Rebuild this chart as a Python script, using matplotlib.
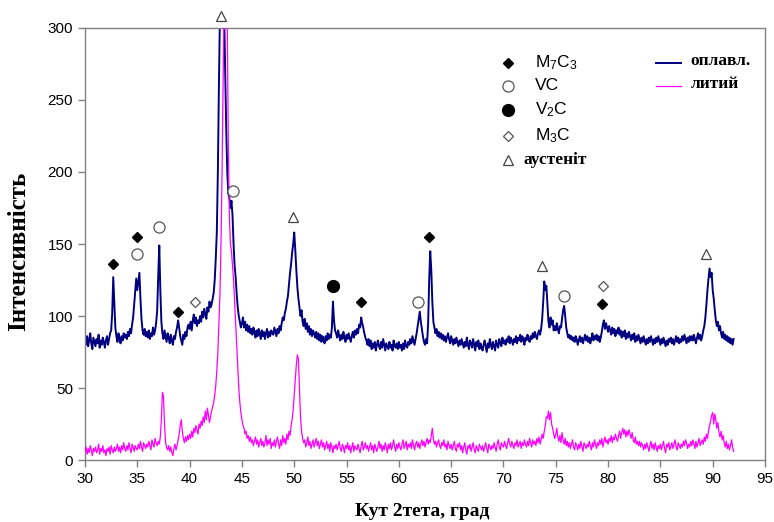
import numpy as np
import matplotlib
matplotlib.use("Agg")
from matplotlib import pyplot as plt

plt.rcParams['mathtext.fontset'] = 'custom'
plt.rcParams['mathtext.rm'] = 'Liberation Sans'
plt.rcParams['mathtext.it'] = 'Liberation Sans:italic'

# 2theta grid, 0.1 deg step from 30 to 92
two_theta = np.round(np.arange(300, 921) / 10.0, 1)

# melted layer (оплавл.), one row per degree
melted = [
    84, 80, 86, 79, 83, 88, 81, 77, 85, 82,
    79, 84, 81, 87, 78, 83, 80, 85, 82, 78,
    83, 86, 80, 84, 88, 90, 102, 127, 110, 92,
    86, 82, 88, 84, 81, 86, 83, 88, 85, 87,
    84, 89, 86, 91, 88, 94, 99, 108, 117, 126,
    118, 124, 130, 112, 98, 90, 87, 91, 86, 89,
    85, 90, 84, 88, 86, 92, 87, 90, 95, 104,
    128, 149, 118, 96, 88, 84, 90, 86, 82, 88,
    85, 81, 87, 83, 80, 86, 84, 89, 92, 97,
    92, 86, 83, 80, 87, 84, 89, 86, 92, 94,
    91, 96, 90, 97, 101, 95, 99, 93, 97, 95,
    100, 96, 103, 99, 105, 101, 98, 106, 103, 110,
    106, 108, 112, 116, 125, 140, 158, 200, 260, 310,
    340, 350, 340, 310, 270, 230, 200, 185, 182, 175,
    180, 170, 150, 135, 127, 115, 106, 100, 96, 92,
    95, 99, 92, 96, 90, 94, 89, 93, 88, 91,
    87, 92, 89, 85, 90, 86, 91, 88, 84, 90,
    86, 89, 84, 88, 91, 85, 89, 86, 90, 88,
    87, 92, 89, 86, 91, 88, 93, 90, 95, 99,
    97, 102, 105, 110, 114, 122, 130, 136, 144, 150,
    158, 146, 132, 120, 112, 106, 100, 104, 96, 93,
    98, 91, 95, 89, 93, 87, 91, 86, 90, 88,
    85, 89, 84, 88, 83, 87, 82, 86, 84, 81,
    86, 83, 88, 84, 87, 85, 92, 110, 97, 90,
    88, 85, 90, 86, 83, 87, 84, 89, 85, 82,
    87, 84, 88, 85, 82, 86, 89, 85, 90, 87,
    91, 88, 94, 92, 99, 95, 92, 88, 85, 83,
    80, 84, 79, 83, 77, 81, 78, 82, 76, 80,
    83, 79, 77, 82, 78, 84, 80, 76, 81, 79,
    77, 82, 78, 80, 76, 83, 79, 78, 81, 77,
    82, 78, 80, 76, 81, 77, 83, 79, 78, 82,
    80, 84, 81, 86, 83, 80, 84, 88, 93, 98,
    103, 96, 91, 86, 82, 80, 84, 81, 95, 125,
    145, 132, 110, 96, 92, 88, 91, 86, 89, 85,
    88, 84, 87, 83, 86, 82, 85, 88, 84, 81,
    86, 83, 80, 84, 81, 85, 82, 79, 83, 80,
    84, 81, 78, 82, 79, 85, 80, 77, 83, 81,
    78, 84, 80, 76, 82, 79, 83, 77, 81, 78,
    76, 80, 83, 79, 75, 81, 78, 84, 80, 77,
    82, 79, 76, 83, 80, 78, 84, 81, 79, 85,
    81, 83, 80, 84, 82, 86, 81, 85, 83, 80,
    84, 82, 86, 81, 85, 83, 87, 82, 86, 84,
    80, 85, 83, 87, 84, 82, 86, 84, 88, 85,
    89, 86, 84, 88, 90, 87, 91, 98, 110, 124,
    118, 121, 108, 96, 92, 99, 94, 97, 90, 93,
    90, 95, 91, 88, 93, 92, 98, 104, 107, 100,
    92, 88, 85, 87, 84, 86, 83, 85, 82, 86,
    84, 80, 83, 86, 82, 85, 81, 84, 87, 83,
    86, 82, 85, 81, 84, 88, 83, 86, 84, 87,
    83, 86, 82, 85, 89, 94, 97, 91, 95, 92,
    89, 93, 90, 87, 92, 88, 91, 86, 90, 88,
    92, 87, 90, 85, 89, 86, 90, 84, 88, 85,
    89, 86, 83, 87, 84, 88, 82, 86, 83, 87,
    84, 81, 85, 82, 86, 83, 80, 84, 81, 85,
    82, 86, 83, 80, 84, 81, 85, 82, 86, 83,
    80, 84, 81, 85, 82, 79, 83, 80, 84, 82,
    85, 81, 84, 80, 83, 86, 82, 85, 81, 84,
    82, 86, 83, 87, 84, 81, 85, 82, 86, 83,
    86, 83, 87, 84, 81, 85, 88, 84, 87, 83,
    86, 90, 93, 99, 108, 118, 126, 133, 127, 130,
    118, 112, 104, 97, 93, 96, 90, 93, 88, 85,
    89, 84, 87, 83, 86, 82, 85, 81, 84, 80,
    84,
]

# cast state (литий)
cast = [
    6, 9, 4, 8, 5, 10, 7, 3, 8, 6,
    9, 5, 7, 11, 4, 8, 6, 10, 5, 7,
    3, 8, 6, 9, 4, 10, 7, 5, 9, 6,
    8, 11, 6, 9, 5, 10, 7, 12, 8, 6,
    10, 7, 12, 8, 5, 11, 9, 6, 10, 8,
    7, 11, 8, 13, 9, 6, 12, 10, 8, 11,
    9, 13, 10, 7, 14, 11, 9, 15, 12, 10,
    13, 11, 16, 28, 47, 44, 25, 12, 9, 7,
    10, 6, 9, 5, 3, 8, 11, 7, 10, 14,
    18, 24, 28, 20, 15, 12, 16, 13, 17, 14,
    18, 15, 20, 16, 22, 19, 24, 21, 18, 25,
    22, 27, 24, 30, 26, 34, 28, 36, 31, 26,
    30, 34, 37, 40, 45, 52, 62, 75, 95, 115,
    150, 200, 260, 330, 350, 340, 300, 220, 170, 150,
    145, 135, 125, 110, 95, 80, 65, 50, 40, 33,
    28, 24, 22, 18, 20, 15, 17, 13, 16, 12,
    14, 10, 13, 16, 11, 14, 9, 12, 15, 10,
    13, 9, 12, 17, 10, 14, 11, 15, 8, 12,
    10, 14, 9, 13, 16, 11, 8, 14, 10, 17,
    12, 15, 11, 18, 14, 20, 17, 24, 28, 35,
    45, 55, 66, 73, 70, 50, 30, 20, 15, 12,
    14, 9, 12, 16, 10, 13, 8, 11, 14, 9,
    12, 15, 10, 13, 8, 11, 14, 9, 12, 7,
    10, 13, 8, 11, 6, 12, 9, 5, 10, 8,
    11, 7, 10, 13, 8, 6, 11, 9, 5, 10,
    8, 12, 7, 10, 5, 9, 12, 6, 10, 8,
    7, 11, 8, 5, 10, 13, 7, 9, 12, 8,
    10, 6, 9, 12, 7, 10, 5, 11, 8, 6,
    9, 13, 8, 11, 6, 10, 7, 12, 9, 5,
    11, 8, 12, 7, 10, 14, 9, 6, 11, 8,
    12, 9, 7, 11, 14, 8, 10, 13, 7, 11,
    9, 12, 8, 14, 10, 7, 11, 13, 9, 12,
    8, 11, 14, 10, 13, 9, 12, 15, 11, 14,
    12, 17, 22, 15, 11, 13, 9, 12, 14, 10,
    8, 12, 10, 14, 9, 11, 7, 13, 10, 8,
    11, 7, 10, 13, 8, 6, 11, 9, 12, 7,
    10, 5, 9, 12, 7, 4, 10, 8, 11, 6,
    9, 12, 7, 5, 10, 8, 6, 11, 9, 7,
    10, 6, 9, 12, 8, 5, 11, 9, 7, 10,
    8, 12, 9, 6, 11, 14, 9, 7, 12, 10,
    9, 13, 10, 8, 12, 15, 11, 9, 13, 10,
    8, 12, 10, 14, 9, 11, 13, 8, 12, 10,
    14, 11, 9, 13, 10, 15, 12, 9, 14, 11,
    13, 10, 15, 12, 16, 11, 14, 18, 15, 20,
    24, 30, 29, 34, 28, 33, 25, 22, 18, 15,
    18, 22, 16, 13, 17, 12, 19, 14, 11, 15,
    10, 13, 9, 12, 8, 11, 14, 9, 7, 12,
    10, 7, 11, 8, 13, 9, 6, 12, 10, 8,
    11, 9, 13, 10, 7, 12, 9, 14, 11, 8,
    12, 10, 14, 11, 15, 9, 13, 16, 12, 14,
    11, 15, 13, 17, 12, 16, 14, 18, 15, 13,
    17, 20, 15, 19, 22, 18, 21, 16, 20, 17,
    21, 18, 15, 19, 14, 12, 16, 11, 13, 10,
    13, 9, 12, 10, 7, 11, 8, 12, 9, 6,
    10, 13, 8, 11, 7, 12, 9, 6, 10, 8,
    11, 7, 10, 13, 8, 5, 11, 9, 12, 7,
    9, 12, 8, 11, 14, 9, 7, 12, 10, 8,
    11, 9, 13, 10, 14, 12, 8, 11, 9, 13,
    10, 14, 11, 8, 13, 9, 12, 15, 10, 12,
    14, 11, 16, 13, 18, 15, 20, 24, 27, 31,
    33, 25, 32, 28, 22, 26, 19, 16, 20, 14,
    17, 12, 9, 13, 8, 11, 7, 10, 14, 9,
    6,
]

# phase marks above the peaks: (2theta, intensity, phase)
peak_x = [32.7, 35.0, 35.0, 37.1, 38.9, 40.5, 43.0, 44.1, 49.9, 53.7,
          56.4, 61.8, 62.9, 73.7, 75.8, 79.5, 79.4, 89.4]
peak_y = [136, 155, 143, 162, 103, 110, 308, 187, 169, 121,
          110, 110, 155, 135, 114, 121, 108, 143]
peak_phase = ['M7C3', 'M7C3', 'VC', 'VC', 'M7C3', 'M3C', 'aus', 'VC', 'aus', 'V2C',
              'M7C3', 'VC', 'M7C3', 'aus', 'VC', 'M3C', 'M7C3', 'aus']

phase_names = ['M7C3', 'VC', 'V2C', 'M3C', 'aus']
phase_labels = [r'M$_7$C$_3$', 'VC', r'V$_2$C', r'M$_3$C', 'аустеніт']
phase_style = {
    'M7C3': dict(marker='D', ms=5.5, mfc='black', mec='black'),
    'VC': dict(marker='o', ms=8, mfc='white', mec='#555555', mew=0.9),
    'V2C': dict(marker='o', ms=8.5, mfc='black', mec='black'),
    'M3C': dict(marker='D', ms=5, mfc='white', mec='#555555', mew=0.9),
    'aus': dict(marker='^', ms=7, mfc='none', mec='#444444', mew=0.9),
}

fig = plt.figure(figsize=(7.74, 5.22), dpi=100)
ax = fig.add_axes([85 / 774, 1 - 460 / 522, 680 / 774, 432 / 522])

ax.plot(two_theta, melted, color='#000080', lw=1.4, zorder=2)
ax.plot(two_theta, cast, color='#ff00ff', lw=0.9, zorder=3)

for x, y, ph in zip(peak_x, peak_y, peak_phase):
    ax.plot(x, y, ls='none', clip_on=False, zorder=4, **phase_style[ph])

# legend drawn by hand
leg_y = [276, 260, 243, 225, 208]
for y, ph, lab in zip(leg_y, phase_names, phase_labels):
    ax.plot(70.4, y, ls='none', zorder=4, **phase_style[ph])
    if ph == 'aus':
        ax.text(71.9, y, lab, fontsize=12.5, fontweight='bold',
                family='Liberation Serif', va='center')
    else:
        ax.text(73.0, y, lab, fontsize=12.5, family='Liberation Sans', va='center')

ax.plot([84.6, 87.0], [276, 276], color='#000080', lw=1.4)
ax.plot([84.6, 87.0], [260, 260], color='#ff00ff', lw=0.9)
ax.text(87.9, 277, 'оплавл.', fontsize=12.5, fontweight='bold',
        family='Liberation Serif', va='center')
ax.text(87.9, 261, 'литий', fontsize=12.5, fontweight='bold',
        family='Liberation Serif', va='center')

ax.set_xlim(30, 95)
ax.set_ylim(0, 300)
ax.set_xticks(np.arange(30, 96, 5))
ax.set_yticks(np.arange(0, 301, 50))
for s in ax.spines.values():
    s.set_color('#808080')
    s.set_linewidth(1.0)
ax.tick_params(direction='out', length=5, width=1, color='#808080',
               labelsize=11, labelcolor='black')
for lab in ax.get_xticklabels() + ax.get_yticklabels():
    lab.set_family('Liberation Sans')

fig.text(19 / 774, 1 - 251 / 522, 'Інтенсивність', rotation=90, ha='center', va='center',
         fontsize=18, fontweight='bold', family='Liberation Serif')
fig.text(422 / 774, 1 - 511 / 522, 'Кут 2тета, град', ha='center', va='center',
         fontsize=14, fontweight='bold', family='Liberation Serif')

fig.savefig('out.png', dpi=100)
